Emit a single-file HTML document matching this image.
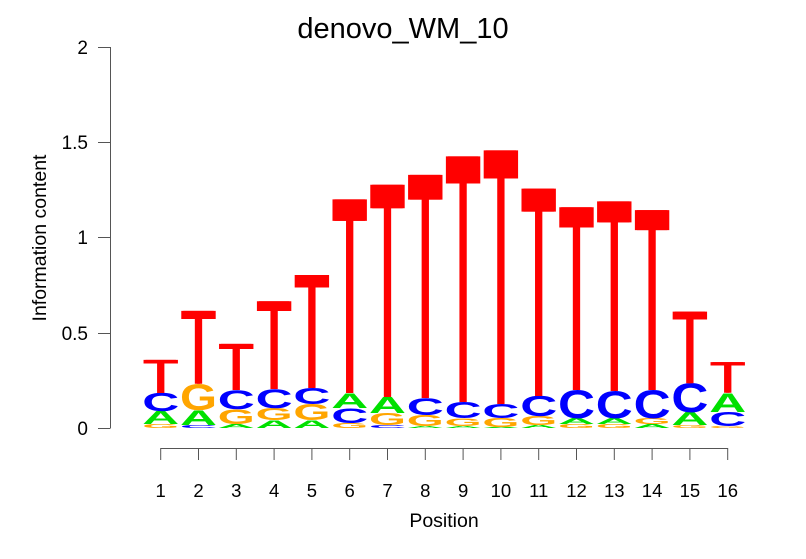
<!DOCTYPE html>
<html><head><meta charset="utf-8"><style>
html,body{margin:0;padding:0;background:#fff;}
svg{display:block;font-family:"Liberation Sans",sans-serif;}
.L{font-size:100px;font-weight:bold;}
.L .T{font-weight:normal;}
.A{fill:#00e000}.C{fill:#0000ff}.G{fill:#ffa500}.T{fill:#ff0000}
</style></head><body>
<svg width="806" height="559" viewBox="0 0 806 559" xmlns="http://www.w3.org/2000/svg">
<text x="403" y="38" font-size="29" text-anchor="middle">denovo_WM_10</text>
<g stroke="#555" stroke-width="1" fill="none">
<line x1="110.5" y1="47" x2="110.5" y2="428"/>
<line x1="98" y1="47.5" x2="110.5" y2="47.5"/>
<line x1="98" y1="142.5" x2="110.5" y2="142.5"/>
<line x1="98" y1="237.5" x2="110.5" y2="237.5"/>
<line x1="98" y1="333.5" x2="110.5" y2="333.5"/>
<line x1="98" y1="428.5" x2="110.5" y2="428.5"/>
</g>
<g font-size="19" text-anchor="end">
<text x="88" y="54">2</text>
<text x="88" y="149">1.5</text>
<text x="88" y="244">1</text>
<text x="88" y="340">0.5</text>
<text x="88" y="435">0</text>
</g>
<text transform="translate(46,238) rotate(-90)" font-size="19.5" text-anchor="middle">Information content</text>
<g stroke="#555" stroke-width="1">
<line x1="160.7" y1="448.5" x2="727.7" y2="448.5"/>
<line x1="160.7" y1="448" x2="160.7" y2="460"/><line x1="198.5" y1="448" x2="198.5" y2="460"/>
<line x1="236.3" y1="448" x2="236.3" y2="460"/><line x1="274.1" y1="448" x2="274.1" y2="460"/>
<line x1="311.9" y1="448" x2="311.9" y2="460"/><line x1="349.7" y1="448" x2="349.7" y2="460"/>
<line x1="387.5" y1="448" x2="387.5" y2="460"/><line x1="425.3" y1="448" x2="425.3" y2="460"/>
<line x1="463.1" y1="448" x2="463.1" y2="460"/><line x1="500.9" y1="448" x2="500.9" y2="460"/>
<line x1="538.7" y1="448" x2="538.7" y2="460"/><line x1="576.5" y1="448" x2="576.5" y2="460"/>
<line x1="614.3" y1="448" x2="614.3" y2="460"/><line x1="652.1" y1="448" x2="652.1" y2="460"/>
<line x1="689.9" y1="448" x2="689.9" y2="460"/><line x1="727.7" y1="448" x2="727.7" y2="460"/>
</g>
<g font-size="18.5" text-anchor="middle">
<text x="160.7" y="497">1</text><text x="198.5" y="497">2</text><text x="236.3" y="497">3</text><text x="274.1" y="497">4</text>
<text x="311.9" y="497">5</text><text x="349.7" y="497">6</text><text x="387.5" y="497">7</text><text x="425.3" y="497">8</text>
<text x="463.1" y="497">9</text><text x="500.9" y="497">10</text><text x="538.7" y="497">11</text><text x="576.5" y="497">12</text>
<text x="614.3" y="497">13</text><text x="652.1" y="497">14</text><text x="689.9" y="497">15</text><text x="727.7" y="497">16</text>
</g>
<text x="444" y="527" font-size="19.5" text-anchor="middle">Position</text>
<g class="L">
<text class="G" transform="translate(142.2,428) scale(1,0.057)" textLength="37" lengthAdjust="spacingAndGlyphs">G</text>
<text class="A" transform="translate(142.2,424) scale(1,0.186)" textLength="37" lengthAdjust="spacingAndGlyphs">A</text>
<text class="C" transform="translate(142.2,411) scale(1,0.257)" textLength="37" lengthAdjust="spacingAndGlyphs">C</text>
<text class="T" transform="translate(142.2,393) scale(1,0.486)" textLength="35" lengthAdjust="spacingAndGlyphs">T</text>
<text class="T" transform="translate(144.2,393) scale(1,0.486)" textLength="35" lengthAdjust="spacingAndGlyphs">T</text>
<text class="C" transform="translate(180,428) scale(1,0.043)" textLength="37" lengthAdjust="spacingAndGlyphs">C</text>
<text class="A" transform="translate(180,425) scale(1,0.214)" textLength="37" lengthAdjust="spacingAndGlyphs">A</text>
<text class="G" transform="translate(180,410) scale(1,0.371)" textLength="37" lengthAdjust="spacingAndGlyphs">G</text>
<text class="T" transform="translate(180,384) scale(1,1.057)" textLength="35" lengthAdjust="spacingAndGlyphs">T</text>
<text class="T" transform="translate(182,384) scale(1,1.057)" textLength="35" lengthAdjust="spacingAndGlyphs">T</text>
<text class="A" transform="translate(217.8,428) scale(1,0.057)" textLength="37" lengthAdjust="spacingAndGlyphs">A</text>
<text class="G" transform="translate(217.8,424) scale(1,0.214)" textLength="37" lengthAdjust="spacingAndGlyphs">G</text>
<text class="C" transform="translate(217.8,409) scale(1,0.271)" textLength="37" lengthAdjust="spacingAndGlyphs">C</text>
<text class="T" transform="translate(217.8,390) scale(1,0.671)" textLength="35" lengthAdjust="spacingAndGlyphs">T</text>
<text class="T" transform="translate(219.8,390) scale(1,0.671)" textLength="35" lengthAdjust="spacingAndGlyphs">T</text>
<text class="A" transform="translate(255.6,428) scale(1,0.114)" textLength="37" lengthAdjust="spacingAndGlyphs">A</text>
<text class="G" transform="translate(255.6,420) scale(1,0.171)" textLength="37" lengthAdjust="spacingAndGlyphs">G</text>
<text class="C" transform="translate(255.6,408) scale(1,0.271)" textLength="37" lengthAdjust="spacingAndGlyphs">C</text>
<text class="T" transform="translate(255.6,389) scale(1,1.271)" textLength="35" lengthAdjust="spacingAndGlyphs">T</text>
<text class="T" transform="translate(257.6,389) scale(1,1.271)" textLength="35" lengthAdjust="spacingAndGlyphs">T</text>
<text class="A" transform="translate(293.4,428) scale(1,0.114)" textLength="37" lengthAdjust="spacingAndGlyphs">A</text>
<text class="G" transform="translate(293.4,420) scale(1,0.229)" textLength="37" lengthAdjust="spacingAndGlyphs">G</text>
<text class="C" transform="translate(293.4,404) scale(1,0.229)" textLength="37" lengthAdjust="spacingAndGlyphs">C</text>
<text class="T" transform="translate(293.4,388) scale(1,1.643)" textLength="35" lengthAdjust="spacingAndGlyphs">T</text>
<text class="T" transform="translate(295.4,388) scale(1,1.643)" textLength="35" lengthAdjust="spacingAndGlyphs">T</text>
<text class="G" transform="translate(331.2,428) scale(1,0.071)" textLength="37" lengthAdjust="spacingAndGlyphs">G</text>
<text class="C" transform="translate(331.2,423) scale(1,0.214)" textLength="37" lengthAdjust="spacingAndGlyphs">C</text>
<text class="A" transform="translate(331.2,408) scale(1,0.214)" textLength="37" lengthAdjust="spacingAndGlyphs">A</text>
<text class="T" transform="translate(331.2,393) scale(1,2.814)" textLength="35" lengthAdjust="spacingAndGlyphs">T</text>
<text class="T" transform="translate(333.2,393) scale(1,2.814)" textLength="35" lengthAdjust="spacingAndGlyphs">T</text>
<text class="C" transform="translate(369,428) scale(1,0.043)" textLength="37" lengthAdjust="spacingAndGlyphs">C</text>
<text class="G" transform="translate(369,425) scale(1,0.171)" textLength="37" lengthAdjust="spacingAndGlyphs">G</text>
<text class="A" transform="translate(369,413) scale(1,0.229)" textLength="37" lengthAdjust="spacingAndGlyphs">A</text>
<text class="T" transform="translate(369,397) scale(1,3.086)" textLength="35" lengthAdjust="spacingAndGlyphs">T</text>
<text class="T" transform="translate(371,397) scale(1,3.086)" textLength="35" lengthAdjust="spacingAndGlyphs">T</text>
<text class="A" transform="translate(406.8,428) scale(1,0.029)" textLength="37" lengthAdjust="spacingAndGlyphs">A</text>
<text class="G" transform="translate(406.8,426) scale(1,0.157)" textLength="37" lengthAdjust="spacingAndGlyphs">G</text>
<text class="C" transform="translate(406.8,415) scale(1,0.243)" textLength="37" lengthAdjust="spacingAndGlyphs">C</text>
<text class="T" transform="translate(406.8,398) scale(1,3.243)" textLength="35" lengthAdjust="spacingAndGlyphs">T</text>
<text class="T" transform="translate(408.8,398) scale(1,3.243)" textLength="35" lengthAdjust="spacingAndGlyphs">T</text>
<text class="A" transform="translate(444.6,428) scale(1,0.029)" textLength="37" lengthAdjust="spacingAndGlyphs">A</text>
<text class="G" transform="translate(444.6,426) scale(1,0.114)" textLength="37" lengthAdjust="spacingAndGlyphs">G</text>
<text class="C" transform="translate(444.6,418) scale(1,0.229)" textLength="37" lengthAdjust="spacingAndGlyphs">C</text>
<text class="T" transform="translate(444.6,402) scale(1,3.571)" textLength="35" lengthAdjust="spacingAndGlyphs">T</text>
<text class="T" transform="translate(446.6,402) scale(1,3.571)" textLength="35" lengthAdjust="spacingAndGlyphs">T</text>
<text class="A" transform="translate(482.4,428) scale(1,0.014)" textLength="37" lengthAdjust="spacingAndGlyphs">A</text>
<text class="G" transform="translate(482.4,427) scale(1,0.129)" textLength="37" lengthAdjust="spacingAndGlyphs">G</text>
<text class="C" transform="translate(482.4,418) scale(1,0.2)" textLength="37" lengthAdjust="spacingAndGlyphs">C</text>
<text class="T" transform="translate(482.4,404) scale(1,3.686)" textLength="35" lengthAdjust="spacingAndGlyphs">T</text>
<text class="T" transform="translate(484.4,404) scale(1,3.686)" textLength="35" lengthAdjust="spacingAndGlyphs">T</text>
<text class="A" transform="translate(520.2,428) scale(1,0.043)" textLength="37" lengthAdjust="spacingAndGlyphs">A</text>
<text class="G" transform="translate(520.2,425) scale(1,0.129)" textLength="37" lengthAdjust="spacingAndGlyphs">G</text>
<text class="C" transform="translate(520.2,416) scale(1,0.286)" textLength="37" lengthAdjust="spacingAndGlyphs">C</text>
<text class="T" transform="translate(520.2,396) scale(1,3.014)" textLength="35" lengthAdjust="spacingAndGlyphs">T</text>
<text class="T" transform="translate(522.2,396) scale(1,3.014)" textLength="35" lengthAdjust="spacingAndGlyphs">T</text>
<text class="G" transform="translate(558,428) scale(1,0.057)" textLength="37" lengthAdjust="spacingAndGlyphs">G</text>
<text class="A" transform="translate(558,424) scale(1,0.086)" textLength="37" lengthAdjust="spacingAndGlyphs">A</text>
<text class="C" transform="translate(558,418) scale(1,0.4)" textLength="37" lengthAdjust="spacingAndGlyphs">C</text>
<text class="T" transform="translate(558,390) scale(1,2.657)" textLength="35" lengthAdjust="spacingAndGlyphs">T</text>
<text class="T" transform="translate(560,390) scale(1,2.657)" textLength="35" lengthAdjust="spacingAndGlyphs">T</text>
<text class="G" transform="translate(595.8,428) scale(1,0.057)" textLength="37" lengthAdjust="spacingAndGlyphs">G</text>
<text class="A" transform="translate(595.8,424) scale(1,0.086)" textLength="37" lengthAdjust="spacingAndGlyphs">A</text>
<text class="C" transform="translate(595.8,418) scale(1,0.386)" textLength="37" lengthAdjust="spacingAndGlyphs">C</text>
<text class="T" transform="translate(595.8,391) scale(1,2.757)" textLength="35" lengthAdjust="spacingAndGlyphs">T</text>
<text class="T" transform="translate(597.8,391) scale(1,2.757)" textLength="35" lengthAdjust="spacingAndGlyphs">T</text>
<text class="A" transform="translate(633.6,428) scale(1,0.057)" textLength="37" lengthAdjust="spacingAndGlyphs">A</text>
<text class="G" transform="translate(633.6,424) scale(1,0.086)" textLength="37" lengthAdjust="spacingAndGlyphs">G</text>
<text class="C" transform="translate(633.6,418) scale(1,0.4)" textLength="37" lengthAdjust="spacingAndGlyphs">C</text>
<text class="T" transform="translate(633.6,390) scale(1,2.614)" textLength="35" lengthAdjust="spacingAndGlyphs">T</text>
<text class="T" transform="translate(635.6,390) scale(1,2.614)" textLength="35" lengthAdjust="spacingAndGlyphs">T</text>
<text class="G" transform="translate(671.4,428) scale(1,0.043)" textLength="37" lengthAdjust="spacingAndGlyphs">G</text>
<text class="A" transform="translate(671.4,425) scale(1,0.186)" textLength="37" lengthAdjust="spacingAndGlyphs">A</text>
<text class="C" transform="translate(671.4,412) scale(1,0.414)" textLength="37" lengthAdjust="spacingAndGlyphs">C</text>
<text class="T" transform="translate(671.4,383) scale(1,1.043)" textLength="35" lengthAdjust="spacingAndGlyphs">T</text>
<text class="T" transform="translate(673.4,383) scale(1,1.043)" textLength="35" lengthAdjust="spacingAndGlyphs">T</text>
<text class="G" transform="translate(709.2,428) scale(1,0.029)" textLength="37" lengthAdjust="spacingAndGlyphs">G</text>
<text class="C" transform="translate(709.2,426) scale(1,0.2)" textLength="37" lengthAdjust="spacingAndGlyphs">C</text>
<text class="A" transform="translate(709.2,412) scale(1,0.271)" textLength="37" lengthAdjust="spacingAndGlyphs">A</text>
<text class="T" transform="translate(709.2,393) scale(1,0.443)" textLength="35" lengthAdjust="spacingAndGlyphs">T</text>
<text class="T" transform="translate(711.2,393) scale(1,0.443)" textLength="35" lengthAdjust="spacingAndGlyphs">T</text>
</g>
</svg>
</body></html>
